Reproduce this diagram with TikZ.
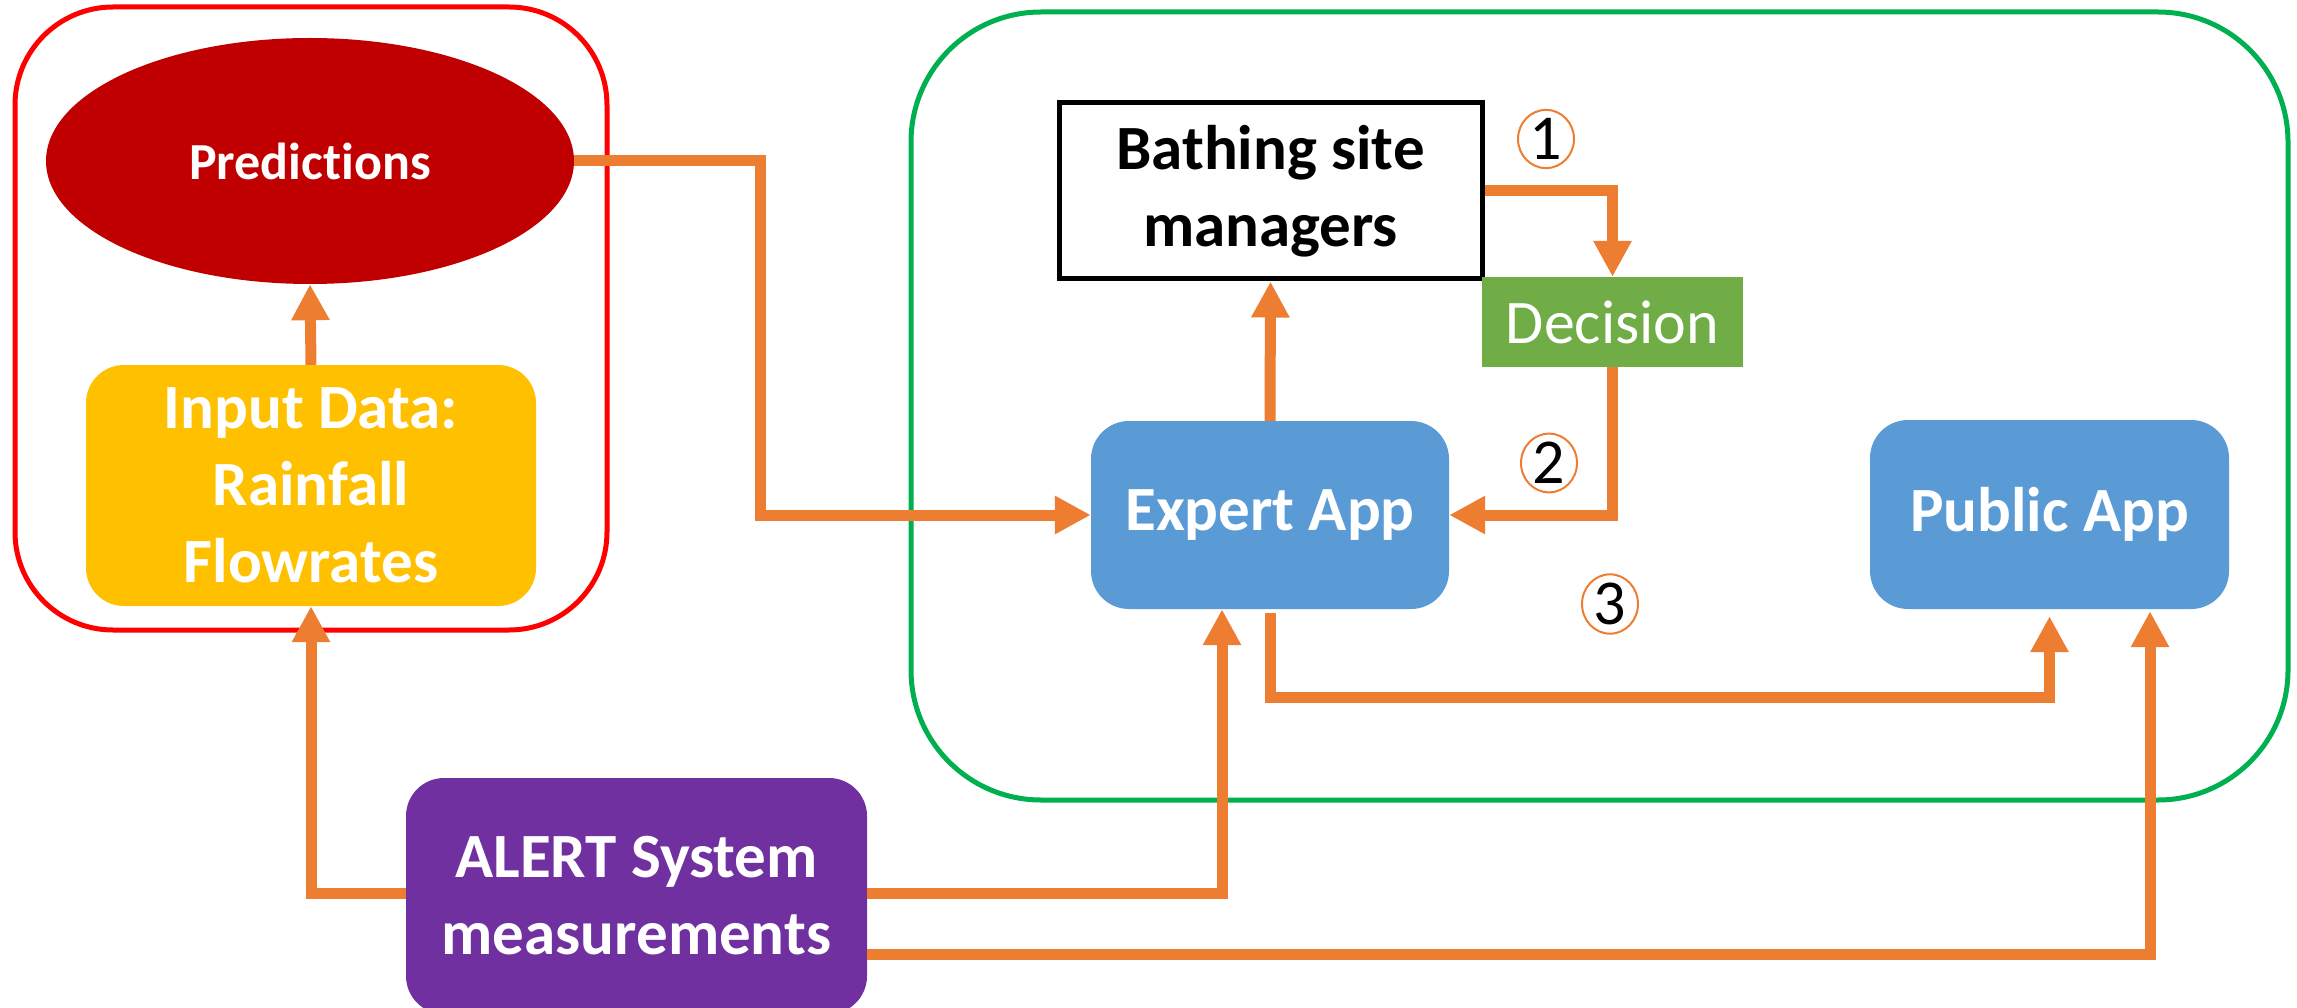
\documentclass[tikz,border=0pt]{standalone}
\usepackage{fontspec}
\setmainfont{Carlito}[Ligatures={NoCommon}]
\usetikzlibrary{arrows.meta,shapes.geometric}
\definecolor{cOrange}{HTML}{ED7D31}
\definecolor{cRed}{HTML}{FF0000}
\definecolor{cDarkRed}{HTML}{C00000}
\definecolor{cYellow}{HTML}{FFC000}
\definecolor{cGreenLine}{HTML}{00B050}
\definecolor{cGreen}{HTML}{70AD47}
\definecolor{cBlue}{HTML}{5B9BD5}
\definecolor{cPurple}{HTML}{7030A0}
\begin{document}
\begin{tikzpicture}[x=1pt,y=-1pt,
  conn/.style={draw=cOrange,line width=11pt,line join=miter},
  arr/.style={conn,-{Triangle[length=36pt,width=36pt]}},
  bigtext/.style={font=\bfseries\fontsize{63}{77}\selectfont},
  appbox/.style={rectangle,rounded corners=38pt,inner sep=0pt,align=center,text=white,bigtext},
  container/.style={rectangle,line width=5pt},
  numc/.style={ellipse,draw=cOrange,line width=2pt,minimum width=56pt,minimum height=58pt,inner sep=0pt,text=black,font=\fontsize{64}{64}\selectfont}]
\useasboundingbox (0,0) rectangle (2297,1008);
\clip (0,0) rectangle (2297,1008);
% containers
\draw[container,draw=cRed,rounded corners=98pt] (15,7) rectangle (607,630);
\draw[container,draw=cGreenLine,rounded corners=130pt] (911,12) rectangle (2288,800);
% nodes
\node[ellipse,fill=cDarkRed,minimum width=528pt,minimum height=246pt,inner sep=0pt,text=white,font=\bfseries\fontsize{52}{60}\selectfont] (pred) at (310,161) {Predictions};
\node[appbox,fill=cYellow,minimum width=450pt,minimum height=241pt] (input) at (311,485.5) {Input Data:\\Rainfall\\Flowrates};
\node[rectangle,draw=black,line width=5pt,fill=white,minimum width=423pt,minimum height=176pt,inner sep=0pt,align=center,bigtext] (bath) at (1270.5,191) {Bathing site\\managers};
\node[rectangle,fill=cGreen,minimum width=261pt,minimum height=90pt,inner sep=0pt,text=white,font=\fontsize{62}{70}\selectfont] (dec) at (1612.5,322) {Decision};
\node[appbox,fill=cBlue,minimum width=358pt,minimum height=188pt] (expert) at (1270,515) {Expert App};
\node[appbox,fill=cBlue,minimum width=359pt,minimum height=189pt] (public) at (2049.5,514.5) {Public App};
\node[appbox,fill=cPurple,minimum width=461pt,minimum height=236pt] (alert) at (636.5,896) {ALERT System\\measurements};
% circled numbers
\node[numc] (n1) at (1546,139) {1};
\node[numc] (n2) at (1549,463) {2};
\node[numc] (n3) at (1610,604) {3};
% connectors
\draw[arr] (input.north) -- (pred.south);
\draw[arr] (pred.east) -- ++(186,0) |- (expert.west);
\draw[arr] (expert.north) -- (bath.south);
\draw[arr] (bath.east) -| (dec.north);
\draw[arr] (dec.south) |- (expert.east);
\draw[arr] ([yshift=3pt]alert.west) -| (input.south);
\draw[arr] ([yshift=3pt]alert.east) -| ([xshift=-48pt]expert.south);
\draw[arr] ([yshift=-58pt]alert.east) -| ([xshift=100.5pt,yshift=-2pt]public.south);
\draw[arr] ([yshift=-4pt]expert.south) -- ++(0,84) -| ([yshift=-7pt]public.south);
\end{tikzpicture}
\end{document}
